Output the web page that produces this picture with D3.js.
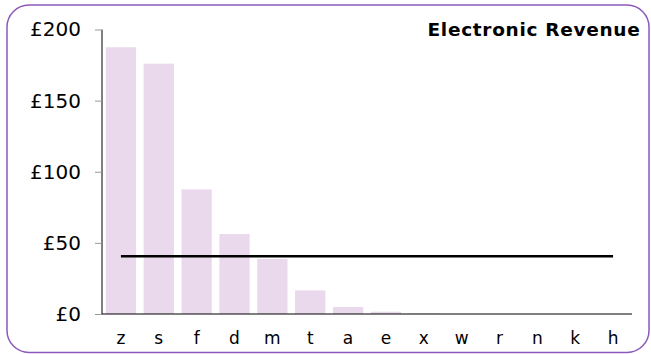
<!DOCTYPE html>
<html>
<head>
<meta charset="utf-8">
<script src="https://cdn.jsdelivr.net/npm/d3@7"></script>
<style>
  html, body { margin: 0; padding: 0; background: #fff; }
  svg { display: block; font-family: "DejaVu Sans", Verdana, sans-serif; }
</style>
</head>
<body>
<svg id="chart" width="651" height="354"></svg>
<script>
const categories = ["z","s","f","d","m","t","a","e","x","w","r","n","k","h"];
const revenue = [187.5, 176, 87.6, 56.2, 38.7, 16.6, 4.9, 1.6, 0.3, 0, 0, 0, 0, 0];
const yTicks = [0, 50, 100, 150, 200];
const title = "Electronic Revenue";

const svg = d3.select("#chart");

// frame
svg.append("rect")
  .attr("x", 7).attr("y", 5)
  .attr("width", 642).attr("height", 347.5)
  .attr("rx", 22).attr("ry", 22)
  .attr("fill", "#fff")
  .attr("stroke", "#8d59bb")
  .attr("stroke-width", 1.5);

const plotLeft = 102, plotRight = 632, plotTop = 29.5, plotBottom = 314;

const x = d3.scaleBand().domain(categories).range([plotLeft, plotRight])
  .paddingInner(0.2).paddingOuter(0.1);
const y = d3.scaleLinear().domain([0, 200]).range([plotBottom, plotTop]);

// bars
svg.append("g").selectAll("rect").data(revenue).join("rect")
  .attr("x", (d, i) => x(categories[i]))
  .attr("width", x.bandwidth())
  .attr("y", d => y(d))
  .attr("height", d => y(0) - y(d))
  .attr("fill", "#ead9ec");

// average line
const avg = d3.mean(revenue);
const xc = c => x(c) + x.bandwidth() / 2;
svg.append("line")
  .attr("x1", xc(categories[0])).attr("x2", xc(categories[categories.length - 1]))
  .attr("y1", y(avg)).attr("y2", y(avg))
  .attr("stroke", "#000").attr("stroke-width", 2.5);

// y axis
const yAxis = d3.axisLeft(y).tickValues(yTicks).tickFormat(d => "£" + d).tickSize(7).tickPadding(14);
const gy = svg.append("g").attr("transform", `translate(${plotLeft},0)`).call(yAxis);
gy.select(".domain").attr("stroke", "#000").attr("d", `M0,${plotTop}V${plotBottom}`);
gy.selectAll(".tick line").attr("stroke", "#999");
gy.selectAll(".tick text").attr("font-size", 20).attr("fill", "#000")
  .attr("font-family", "'DejaVu Sans', Verdana, sans-serif");

// x axis
const xAxis = d3.axisBottom(x).tickSize(0).tickPadding(18);
const gx = svg.append("g").attr("transform", `translate(0,${plotBottom})`).call(xAxis);
gx.select(".domain").attr("stroke", "#000").attr("d", `M${plotLeft},0H${plotRight}`);
gx.selectAll(".tick text").attr("font-size", 17).attr("fill", "#000")
  .attr("font-family", "'DejaVu Sans', Verdana, sans-serif");

// title
svg.append("text")
  .attr("x", 640.5).attr("y", 36)
  .attr("text-anchor", "end")
  .attr("font-size", 18.5).attr("font-weight", "bold")
  .attr("letter-spacing", 0.7)
  .attr("fill", "#000")
  .text(title);
</script>
</body>
</html>
